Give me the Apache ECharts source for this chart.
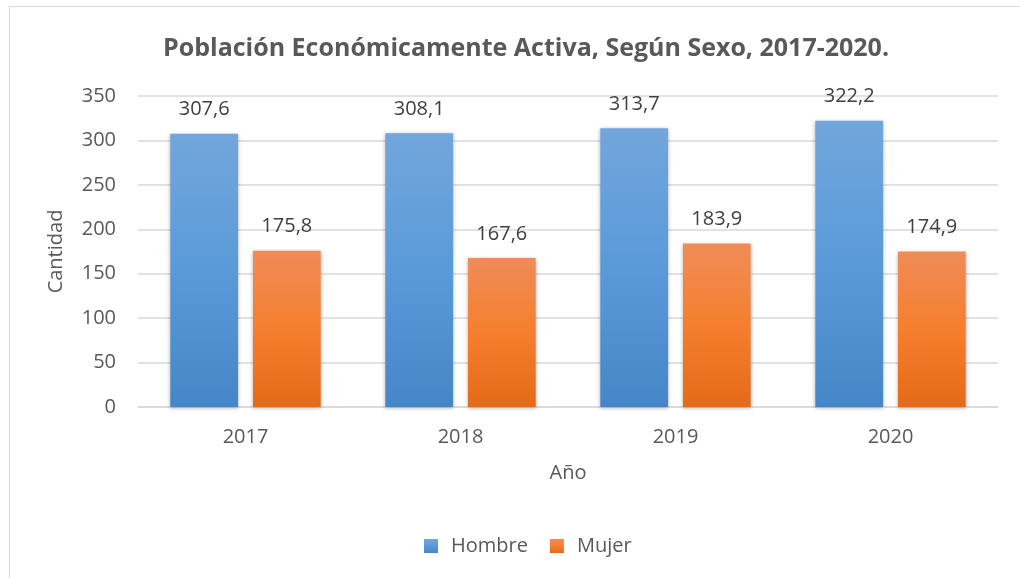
<!DOCTYPE html>
<html><head><meta charset="utf-8">
<script src="https://cdn.jsdelivr.net/npm/echarts@6/dist/echarts.min.js"></script>
<style>html,body{margin:0;padding:0;background:#fff}#c{width:1020px;height:578px}</style>
</head><body><div id="c"></div>
<script>
const categories = ['2017', '2018', '2019', '2020'];
const hombre = [307.6, 308.1, 313.7, 322.2];
const mujer = [175.8, 167.6, 183.9, 174.9];
const yTicks = { min: 0, max: 350, interval: 50 };

const FONT = '"Open Sans", "Noto Sans", sans-serif';
const blue = new echarts.graphic.LinearGradient(0, 0, 0, 1, [
  { offset: 0, color: '#72a6dc' }, { offset: 0.5, color: '#5a9ad9' }, { offset: 1, color: '#4586c8' }]);
const orange = new echarts.graphic.LinearGradient(0, 0, 0, 1, [
  { offset: 0, color: '#f08c58' }, { offset: 0.5, color: '#f57f2e' }, { offset: 1, color: '#e46a17' }]);
const fmt = p => String(p.value.toFixed(1)).replace('.', ',');

const chart = echarts.init(document.getElementById('c'));
chart.setOption({
  animation: false,
  graphic: [{ type: 'rect', shape: { x: 9.5, y: 6.5, width: 1030, height: 600 }, style: { fill: 'none', stroke: '#d9d9d9', lineWidth: 1 }, z: -10 }],
  title: { text: 'Población Económicamente Activa, Según Sexo, 2017-2020.', left: 158, top: 31,
    textStyle: { fontFamily: FONT, fontSize: 25, fontWeight: 'bold', color: '#595959' } },
  legend: { top: 531, left: 419, itemWidth: 14, itemHeight: 14, itemGap: 22, icon: 'rect',
    textStyle: { fontFamily: FONT, fontSize: 20, color: '#595959', padding: [0, 0, 0, 8] }, data: ['Hombre', 'Mujer'] },
  grid: { left: 138, right: 22, top: 96, bottom: 171 },
  xAxis: { type: 'category', data: categories, name: 'Año', nameLocation: 'middle', nameGap: 56,
    nameTextStyle: { fontFamily: FONT, fontSize: 20, color: '#595959' },
    axisLine: { lineStyle: { color: '#d9d9d9', width: 1.5 } }, axisTick: { show: false },
    axisLabel: { fontFamily: FONT, fontSize: 20, color: '#595959', margin: 20 } },
  yAxis: { type: 'value', min: yTicks.min, max: yTicks.max, interval: yTicks.interval,
    name: 'Cantidad', nameLocation: 'middle', nameGap: 72,
    nameTextStyle: { fontFamily: FONT, fontSize: 20, color: '#595959' },
    axisLine: { show: false }, axisTick: { show: false },
    axisLabel: { fontFamily: FONT, fontSize: 20, color: '#595959', margin: 22 },
    splitLine: { lineStyle: { color: '#d9d9d9', width: 1.5 } } },
  series: [
    { name: 'Hombre', type: 'bar', data: hombre, barWidth: '31.5%', barGap: '22%',
      itemStyle: { color: blue, shadowBlur: 4, shadowColor: 'rgba(0,0,0,0.3)', shadowOffsetY: 1 },
      label: { show: true, position: 'top', distance: 14, formatter: fmt, fontFamily: FONT, fontSize: 20, color: '#404040' } },
    { name: 'Mujer', type: 'bar', data: mujer, barWidth: '31.5%', barGap: '22%',
      itemStyle: { color: orange, shadowBlur: 4, shadowColor: 'rgba(0,0,0,0.3)', shadowOffsetY: 1 },
      label: { show: true, position: 'top', distance: 14, formatter: fmt, fontFamily: FONT, fontSize: 20, color: '#404040' } }
  ]
});
</script></body></html>
